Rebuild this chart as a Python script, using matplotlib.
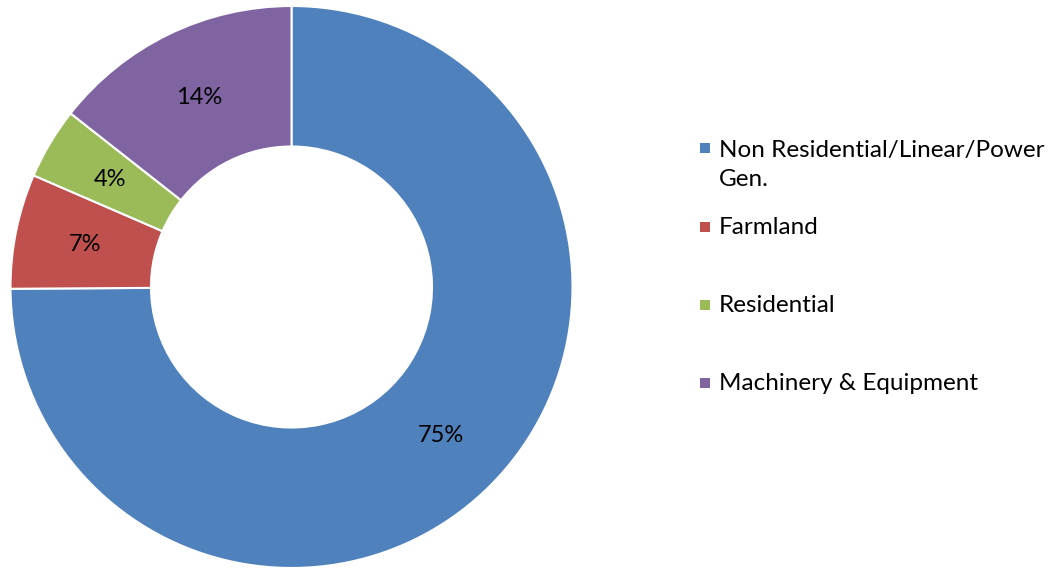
import matplotlib.pyplot as plt
from matplotlib.patches import Rectangle

# data (percent of total)
categories = ["Non Residential/Linear/Power\nGen.", "Farmland", "Residential", "Machinery & Equipment"]
shares = [74.9, 6.6, 4.1, 14.4]
pct_labels = ["75%", "7%", "4%", "14%"]
colors = ["#4F81BD", "#C0504D", "#9BBB59", "#8064A2"]

plt.rcParams['font.family'] = ['Lato', 'DejaVu Sans']

W, H = 1054, 569
fig = plt.figure(figsize=(W / 100, H / 100), dpi=100)

# donut centred at (291.5, 287) px with radius 281 px
cx, cy, r = 291.5, 287, 281
ax = fig.add_axes([(cx - r) / W, (H - cy - r) / H, 2 * r / W, 2 * r / H])
wedges, texts, autotexts = ax.pie(
    shares, colors=colors, startangle=90, counterclock=False,
    radius=1.0, autopct=lambda p: "", pctdistance=0.75,
    wedgeprops=dict(width=0.5, edgecolor="white", linewidth=1.5))
for t, lab in zip(autotexts, pct_labels):
    t.set_text(lab)
    t.set_fontsize(17)
    t.set_color("black")
ax.set_xlim(-1, 1)
ax.set_ylim(-1, 1)
ax.set_aspect("equal")
ax.axis("off")

# legend drawn by hand to match the wide row spacing
row_y = [148, 227, 305, 383]
for y, lab, col in zip(row_y, categories, colors):
    fig.patches.append(Rectangle(((700) / W, (H - y - 5) / H), 10 / W, 10 / H,
                                 facecolor=col, edgecolor="none",
                                 transform=fig.transFigure))
    nlines = lab.count("\n") + 1
    ty = y + (nlines - 1) * 17  # centre of the text block
    fig.text(719 / W, (H - ty) / H, lab, fontsize=17.5, va="center",
             ha="left", linespacing=1.5)

fig.savefig("out.png", dpi=100)
